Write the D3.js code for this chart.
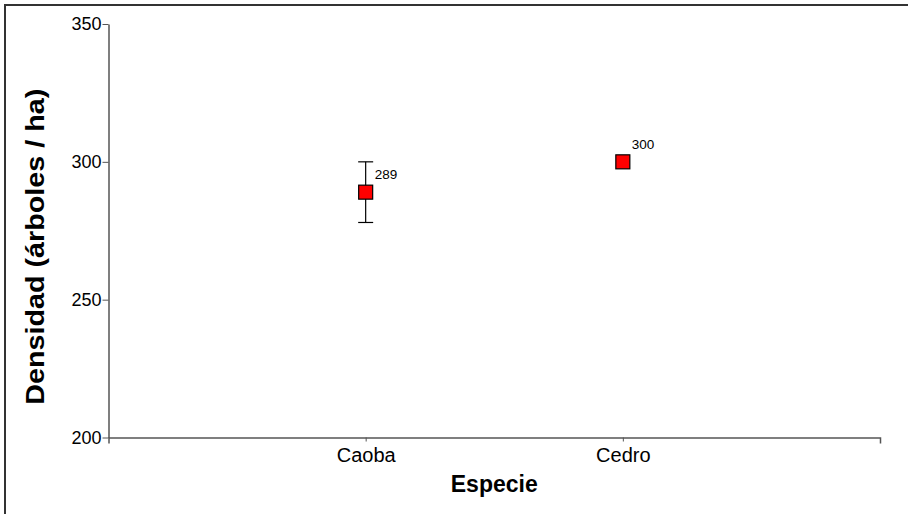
<!DOCTYPE html>
<html>
<head>
<meta charset="utf-8">
<script src="https://cdn.jsdelivr.net/npm/d3@7"></script>
<style>
  html, body { margin: 0; padding: 0; background: #fff; }
  svg { display: block; font-family: "Liberation Sans", Arial, sans-serif; }
</style>
</head>
<body>
<svg id="chart" width="908" height="514"></svg>
<script>
// Species and their mean stand density (trees per hectare)
const species = ["Caoba", "Cedro"];
const density = [289, 300];
const errLow = [278, 300];
const errHigh = [300, 300];
const yTicks = [200, 250, 300, 350];

(function () {
  const svg = d3.select("#chart");
  const W = 908, H = 514;
  const mLeft = 108.5, mRight = 880, mTop = 24, mBottom = 437.5;

  // Outer frame: top and left edges only
  svg.append("path")
    .attr("d", `M5,${H} L5,5 L${W},5`)
    .attr("fill", "none")
    .attr("stroke", "#333")
    .attr("stroke-width", 2);

  const x = d3.scalePoint().domain(species).range([mLeft, mRight]).padding(1);
  const y = d3.scaleLinear().domain([200, 350]).range([mBottom, mTop]);

  const axisColor = "#555";

  // Y axis
  const yAxis = svg.append("g")
    .attr("transform", `translate(${mLeft},0)`)
    .call(d3.axisLeft(y).tickValues(yTicks).tickSize(6).tickPadding(1).tickSizeOuter(0));
  yAxis.select(".domain").attr("stroke", axisColor).attr("stroke-width", 1.5);
  yAxis.selectAll(".tick line").attr("stroke", axisColor);
  yAxis.selectAll(".tick text")
    .attr("font-size", 18).attr("fill", "#000")
    .attr("font-family", "Liberation Sans, Arial, sans-serif");

  // X axis
  const xAxis = svg.append("g")
    .attr("transform", `translate(0,${mBottom})`)
    .call(d3.axisBottom(x).tickSize(4).tickPadding(6).tickSizeOuter(6));
  xAxis.select(".domain").attr("stroke", axisColor).attr("stroke-width", 1.5);
  xAxis.selectAll(".tick line").attr("stroke", axisColor);
  xAxis.selectAll(".tick text")
    .attr("font-size", 20).attr("fill", "#000")
    .attr("font-family", "Liberation Sans, Arial, sans-serif");

  // Axis titles
  svg.append("text")
    .attr("x", (mLeft + mRight) / 2)
    .attr("y", 492)
    .attr("text-anchor", "middle")
    .attr("font-weight", "bold")
    .attr("font-size", 23)
    .text("Especie");

  svg.append("text")
    .attr("transform", `translate(44,${(mTop + mBottom) / 2 + 16}) rotate(-90)`)
    .attr("text-anchor", "middle")
    .attr("font-weight", "bold")
    .attr("font-size", 25)
    .attr("textLength", 316)
    .attr("lengthAdjust", "spacingAndGlyphs")
    .text("Densidad (árboles / ha)");

  // Error bars
  const capW = 15;
  const bars = svg.append("g").attr("stroke", "#000").attr("stroke-width", 1.2);
  species.forEach((s, i) => {
    if (errHigh[i] === errLow[i]) return;
    const cx = x(s);
    bars.append("line").attr("x1", cx).attr("x2", cx).attr("y1", y(errHigh[i])).attr("y2", y(errLow[i]));
    bars.append("line").attr("x1", cx - capW / 2).attr("x2", cx + capW / 2).attr("y1", y(errHigh[i])).attr("y2", y(errHigh[i]));
    bars.append("line").attr("x1", cx - capW / 2).attr("x2", cx + capW / 2).attr("y1", y(errLow[i])).attr("y2", y(errLow[i]));
  });

  // Mean markers
  const sq = 14;
  svg.append("g").selectAll("rect")
    .data(species)
    .join("rect")
    .attr("x", d => x(d) - sq / 2)
    .attr("y", (d, i) => y(density[i]) - sq / 2)
    .attr("width", sq)
    .attr("height", sq)
    .attr("fill", "#ff0000")
    .attr("stroke", "#000")
    .attr("stroke-width", 1.2);

  // Value labels
  svg.append("g").selectAll("text")
    .data(species)
    .join("text")
    .attr("x", d => x(d) + 9)
    .attr("y", (d, i) => y(density[i]) - 13)
    .attr("font-size", 13.5)
    .attr("fill", "#000")
    .text((d, i) => density[i]);
})();
</script>
</body>
</html>
